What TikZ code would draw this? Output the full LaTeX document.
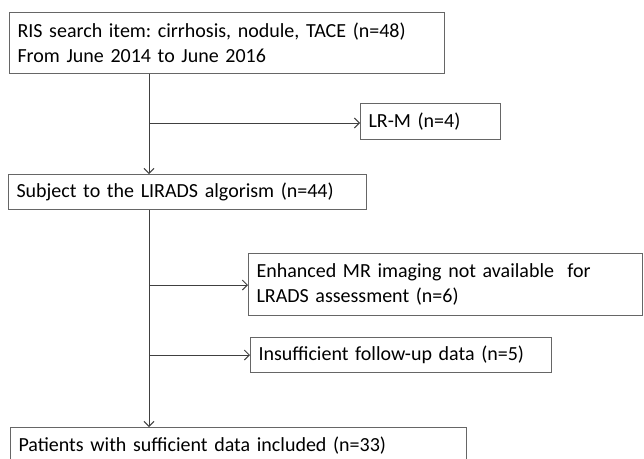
\documentclass[tikz,border=0pt]{standalone}
\usepackage{fontspec}
\setmainfont{Carlito}
\usepackage{tikz}
\usetikzlibrary{arrows.meta}
\frenchspacing

\begin{document}
\begin{tikzpicture}[x=1pt,y=-1pt,
  box/.style={shape=rectangle,draw=black!60,line width=1pt,anchor=north west,
    inner xsep=8pt,inner ysep=0pt,align=left,font=\fontsize{20}{25}\selectfont},
  flow/.style={draw=black!75,line width=1pt},
  >={Straight Barb[length=5pt,width=10pt]}]
\useasboundingbox (0,0) rectangle (644,458);
\clip (0,0) rectangle (644,458);

\node[box,text width=419pt,minimum height=61pt](ris) at (9,12) {RIS search item: cirrhosis, nodule, TACE (n=48)\\From June 2014 to June 2016};
\node[box,text width=124pt,minimum height=36pt](lrm) at (360,103) {LR-M (n=4)};
\node[box,text width=342pt,minimum height=35pt](lirads) at (8,174) {Subject to the LIRADS algorism (n=44)};
\node[box,text width=378pt,minimum height=62pt](mri) at (248,253) {Enhanced MR imaging not available\ \ for\\LRADS assessment (n=6)};
\node[box,text width=285pt,minimum height=35pt](fu) at (250,337) {Insufficient follow-up data (n=5)};
\node[box,text width=440pt,minimum height=36pt](incl) at (10,427) {Patients with sufficient data included (n=33)};

\coordinate (t1) at (149,123);
\coordinate (t2) at (149,285);
\coordinate (t3) at (149,355);

\draw [flow,->] (ris.south -| t1) -- (lirads.north -| t1);
\draw [flow,->] (t1) -- (t1 -| lrm.west);
\draw [flow,->] (lirads.south -| t2) -- (incl.north -| t2);
\draw [flow,->] (t2) -- (t2 -| mri.west);
\draw [flow,->] (t3) -- (t3 -| fu.west);
\end{tikzpicture}
\end{document}
